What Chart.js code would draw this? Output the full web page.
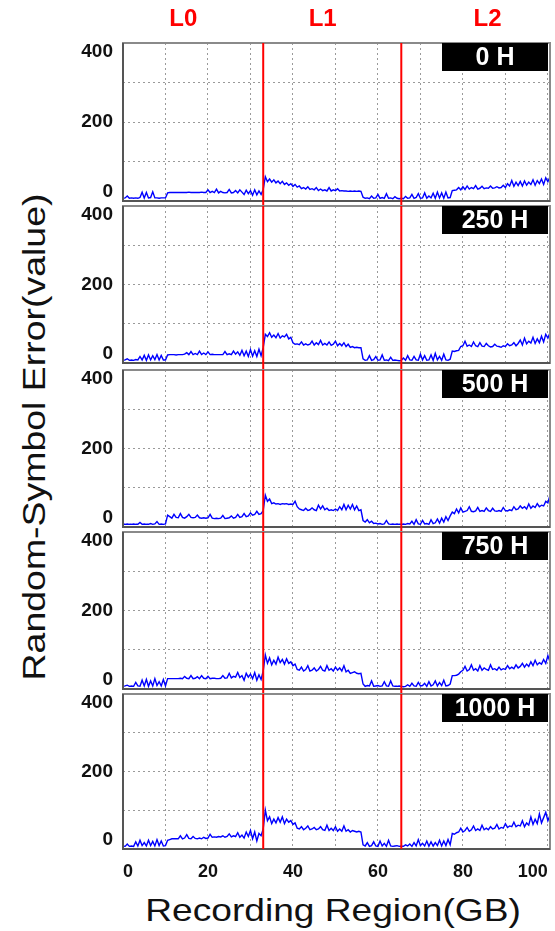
<!DOCTYPE html>
<html>
<head>
<meta charset="utf-8">
<script src="https://cdn.jsdelivr.net/npm/chart.js@4/dist/chart.umd.min.js"></script>
<style>
  html, body { margin: 0; padding: 0; background: #fff; }
  body { width: 555px; height: 931px; position: relative; overflow: hidden; font-family: 'Liberation Sans', Arial, sans-serif; }
  .panel { position: absolute; left: 0; }
  .title { position: absolute; white-space: nowrap; font-size: 32px; color: #111; }
</style>
</head>
<body>
<div class="title" style="left:333px; top:910px; transform: translate(-50%,-50%) scaleX(1.16);">Recording Region(GB)</div>
<div class="title" style="left:34px; top:437px; transform: translate(-50%,-50%) rotate(-90deg) scaleX(1.17);">Random-Symbol Error(value)</div>
<script>
// aging times, one panel each
const hours = ['0 H', '250 H', '500 H', '750 H', '1000 H'];
// recording layers and their boundaries (GB)
const layerNames = ['L0', 'L1', 'L2'];
const layerLabelGB = [14.2, 47, 85.8];
const layerEdges = [33, 65.5];
const xTickLabels = [0, 20, 40, 60, 80, 100];
const yTickLabels = [0, 200, 400];

// readings every 0.5 GB, one run per region, each run starting at segStart[k]
const segStart = [0, 10.5, 33.5, 56.5, 77.5];

const err0H = [
  [2,3,8,2,3,2,3,2,4,18,3,17,3,4,19,3,3,2,3,3,3],
  [16,17,17,17,17,17,17,17,17,17,18,17,17,17,17,17,18,17,17,24,17,20,17,26,16,20,17,16,17,25,16,17,22,16,24,18,12,23,14,22,10,24,11,21,12,25],
  [58,45,52,44,50,42,47,40,46,38,42,36,40,33,38,31,34,27,30,26,32,25,27,24,30,22,26,22,24,21,30,21,24,22,27,21,22,21,21,20,21,20,21,20,21,20],
  [5,2,3,1,8,2,3,12,2,4,2,14,2,3,1,6,2,1,2,1,7,2,3,12,2,4,14,2,3,16,2,8,3,15,2,18,3,16,2,18,3,4],
  [22,23,24,30,24,32,25,34,26,30,27,35,26,28,33,27,29,28,34,28,29,32,29,30,36,30,40,34,48,33,44,35,46,34,47,36,44,38,50,36,48,40,52,38,55,45,58]
];
const err250H = [
  [2,3,6,2,3,2,4,3,12,3,15,2,16,3,14,4,17,3,15,3,3],
  [16,17,17,17,16,17,17,17,18,22,17,25,17,20,17,26,17,21,17,24,17,18,17,17,17,17,17,25,17,19,17,26,18,24,15,28,14,26,12,30,13,27,12,31,14,35],
  [70,64,74,62,68,61,72,60,66,63,70,58,62,48,44,45,43,50,42,45,42,44,52,42,48,43,54,42,46,42,50,41,44,52,40,46,40,48,38,44,36,38,35,36,35,35],
  [6,2,3,14,2,4,12,2,3,16,2,3,1,10,2,3,2,1,2,8,2,14,3,2,12,3,2,18,3,14,2,3,16,2,20,3,12,2,18,3,2,5],
  [26,25,27,28,38,40,52,39,42,38,50,40,38,48,39,38,46,40,37,38,44,39,38,36,40,38,45,40,42,48,40,46,55,42,60,45,52,47,62,46,58,48,65,50,70,60,74]
];
const err500H = [
  [2,2,3,2,2,3,2,2,7,2,3,2,2,4,2,3,9,2,3,2,3],
  [26,22,18,28,20,19,30,20,18,22,28,20,19,20,26,19,18,19,18,19,28,18,17,18,17,18,25,17,18,19,24,18,20,28,20,22,30,22,24,32,26,28,36,28,30,38],
  [78,62,68,56,58,55,56,54,56,55,56,54,55,54,62,48,42,40,38,44,38,40,45,40,38,52,42,50,40,44,38,40,38,42,38,48,40,54,40,52,42,54,40,50,38,40],
  [12,8,14,6,10,4,5,3,4,2,3,12,3,2,3,2,3,2,2,3,2,4,3,10,2,14,3,2,12,3,4,2,14,4,6,16,5,18,8,22,12,24],
  [34,30,42,32,45,34,36,38,48,36,35,37,46,36,38,36,45,38,36,44,37,36,38,36,46,38,37,40,38,48,40,42,50,44,48,42,55,44,50,46,56,48,52,50,62,58,78]
];
const err750H = [
  [2,3,5,2,3,2,12,3,2,18,3,20,2,16,3,22,4,14,3,20,3],
  [22,22,22,22,22,22,23,22,28,23,22,30,22,23,27,22,30,23,22,28,22,23,23,22,22,23,30,23,24,36,24,28,26,38,25,30,18,36,26,34,22,38,18,32,20,42],
  [84,62,76,58,70,60,78,64,72,60,74,62,66,56,60,46,44,52,42,46,56,42,44,50,42,46,54,44,42,56,44,48,42,52,44,50,42,56,40,44,36,38,40,36,35,36],
  [8,2,4,3,16,2,3,4,2,3,14,3,2,16,3,2,2,3,2,1,2,6,2,10,3,2,12,3,4,10,2,14,3,6,16,3,12,4,18,3,4,8],
  [30,30,31,34,40,44,54,42,46,58,44,48,42,56,44,50,46,44,58,46,48,44,52,45,48,46,56,48,52,48,58,50,54,62,52,60,54,66,56,70,58,64,60,72,62,82,66]
];
const err1000H = [
  [3,2,8,2,3,2,14,3,18,4,12,3,18,4,15,3,20,4,16,3,4],
  [18,20,22,22,22,22,30,22,24,33,23,22,28,23,22,24,22,26,23,24,34,26,27,26,28,27,30,26,28,35,27,30,28,38,26,32,24,40,28,44,22,40,16,36,30,48],
  [98,70,80,62,74,64,78,66,80,62,74,66,70,60,64,50,48,54,46,50,56,46,48,52,46,48,54,46,44,58,44,50,44,54,42,48,42,56,42,46,40,44,42,40,42,40],
  [6,3,12,2,4,14,3,2,16,3,10,2,18,3,2,3,4,2,3,2,6,3,8,2,12,3,20,4,10,3,16,2,14,3,12,4,18,3,16,4,20,6],
  [36,34,38,40,50,40,44,52,42,46,56,44,48,44,58,46,50,46,54,48,50,60,48,52,50,62,52,56,54,66,54,58,56,70,54,64,58,80,60,74,62,88,64,78,92,70,84]
];
const series = [err0H, err250H, err500H, err750H, err1000H];

// page layout of the five plot frames
const panelTop = [43, 206, 370, 532, 694];
const panelBottom = [201, 363, 527, 689, 849];
const FONT = "'Liberation Sans', Arial, sans-serif";
const tickFont = { family: FONT, weight: 'bold', size: 19 };
const LABEL_GAP = 10;

const measure = document.createElement('canvas').getContext('2d');
measure.font = 'bold 19px ' + FONT;

const overlay = {
  id: 'overlay',
  afterDatasetsDraw(chart, args, opts) {
    const { ctx, chartArea: a, scales: { x } } = chart;
    ctx.save();
    // frame
    ctx.strokeStyle = '#8a8a8a';
    ctx.lineWidth = 2;
    ctx.strokeRect(a.left, a.top, a.right - a.left, a.bottom - a.top);
    ctx.strokeStyle = '#555';
    ctx.beginPath();
    ctx.moveTo(a.left, a.top); ctx.lineTo(a.left, a.bottom); ctx.lineTo(a.right, a.bottom);
    ctx.stroke();
    // layer boundaries
    ctx.strokeStyle = '#ff0000';
    ctx.lineWidth = 2;
    for (const gb of layerEdges) {
      const px = x.getPixelForValue(gb);
      ctx.beginPath();
      ctx.moveTo(px, a.top);
      ctx.lineTo(px, a.bottom + opts.extend);
      ctx.stroke();
    }
    // aging time tag
    ctx.fillStyle = '#000';
    ctx.fillRect(a.right - 108, a.top, 106, 28);
    ctx.fillStyle = '#fff';
    ctx.font = 'bold 25px ' + FONT;
    ctx.textAlign = 'center';
    ctx.textBaseline = 'middle';
    ctx.fillText(opts.tag, a.right - 55, a.top + 15);
    // layer names over the first panel
    if (opts.layers) {
      ctx.fillStyle = '#ff0000';
      ctx.font = 'bold 24px ' + FONT;
      layerNames.forEach((n, i) => ctx.fillText(n, x.getPixelForValue(layerLabelGB[i]), a.top - 24));
    }
    ctx.restore();
  }
};

// a label-only y axis holding one end label, nudged inside the frame
function endAxis(value, offset) {
  const w = measure.measureText(String(value)).width;
  return {
    type: 'linear', position: 'left', weight: 0, min: -5, max: 405,
    afterBuildTicks: s => { s.ticks = [{ value }]; },
    afterFit: s => { s.width = 0; },
    border: { display: false },
    grid: { display: false, drawTicks: false },
    ticks: {
      mirror: true, crossAlign: 'near', padding: -(LABEL_GAP + w), labelOffset: offset,
      color: '#111', font: tickFont, autoSkip: false, callback: v => String(v)
    }
  };
}

series.forEach((segs, i) => {
  const last = i === series.length - 1;
  const canvasTop = i === 0 ? 0 : panelTop[i] - 30;
  const padTop = panelTop[i] - canvasTop;
  const extraBottom = last ? 50 : 30;
  const xAxisH = last ? 40 : 0;
  const h = padTop + (panelBottom[i] - panelTop[i]) + extraBottom;

  const wrap = document.createElement('div');
  wrap.className = 'panel';
  wrap.style.top = canvasTop + 'px';
  const cv = document.createElement('canvas');
  cv.width = 555; cv.height = h;
  wrap.appendChild(cv);
  document.body.appendChild(wrap);

  const points = segs.flatMap((seg, s) => seg.map((v, k) => ({ x: segStart[s] + k * 0.5, y: v })));

  new Chart(cv, {
    type: 'line',
    data: { datasets: [{ data: points, yAxisID: 'y', borderColor: '#0000ff', borderWidth: 1.4, pointRadius: 0, tension: 0, fill: false }] },
    options: {
      responsive: false,
      animation: false,
      layout: { padding: { top: padTop, left: 0, right: 5, bottom: extraBottom - xAxisH } },
      plugins: {
        legend: { display: false }, tooltip: { enabled: false },
        overlay: { tag: hours[i], layers: i === 0, extend: last ? 0 : panelTop[i + 1] - panelBottom[i] }
      },
      scales: {
        x: {
          type: 'linear', min: 0, max: 100.5,
          afterFit: s => { s.height = xAxisH; s.paddingLeft = 0; s.paddingRight = 0; },
          border: { display: false, dash: [2, 3] },
          grid: { color: '#9a9a9a', lineWidth: 1, drawTicks: false },
          ticks: {
            display: last, stepSize: 10, includeBounds: false, align: 'inner', padding: 12,
            maxRotation: 0, autoSkip: false, color: '#111',
            font: { family: FONT, weight: 'bold', size: 18 },
            callback: v => xTickLabels.includes(v) ? String(v) : ''
          }
        },
        y: {
          type: 'linear', position: 'left', weight: 1, min: -5, max: 405,
          afterFit: s => { s.width = 123; },
          border: { display: false, dash: [2, 3] },
          grid: { color: '#9a9a9a', lineWidth: 1, drawTicks: false },
          ticks: {
            stepSize: 100, includeBounds: false, padding: LABEL_GAP, color: '#111', autoSkip: false,
            font: tickFont,
            callback: v => (v === yTickLabels[1] ? String(v) : '')
          }
        },
        yLow: endAxis(yTickLabels[0], -7),
        yHigh: endAxis(yTickLabels[2], 7)
      }
    },
    plugins: [overlay]
  });
});
</script>
</body>
</html>
